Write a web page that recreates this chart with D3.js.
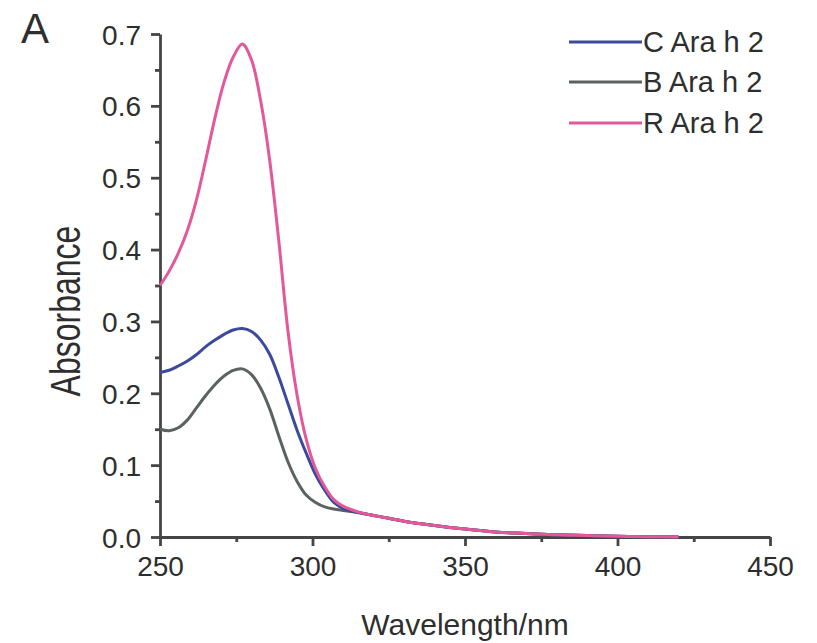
<!DOCTYPE html>
<html><head><meta charset="utf-8">
<script src="https://cdn.jsdelivr.net/npm/d3@7"></script>
<style>body{margin:0;background:#fff}svg{display:block}text{font-family:"Liberation Sans",Arial,sans-serif;fill:#2e2e2e}</style>
</head><body><svg id="c" width="817" height="643"></svg>
<script>
const wavelengths = [250,253,256,259,262,265,268,271,274,277,280,283,286,289,292,295,298,301,304,307,310,315,320,325,330,340,350,360,370,380,390,400,410,420];
const seriesNames = ["C Ara h 2","B Ara h 2","R Ara h 2"];
const cValues = [0.229,0.232,0.238,0.245,0.254,0.265,0.274,0.282,0.288,0.290,0.286,0.274,0.254,0.222,0.185,0.148,0.116,0.087,0.065,0.048,0.040,0.034,0.030,0.026,0.022,0.016,0.011,0.007,0.005,0.003,0.002,0.001,0.0005,0];
const bValues = [0.150,0.148,0.152,0.163,0.180,0.197,0.212,0.224,0.232,0.234,0.226,0.207,0.178,0.140,0.104,0.077,0.058,0.048,0.042,0.039,0.037,0.034,0.030,0.026,0.022,0.016,0.011,0.007,0.005,0.003,0.002,0.001,0.0005,0];
const rValues = [0.350,0.370,0.395,0.427,0.470,0.525,0.583,0.633,0.668,0.686,0.664,0.607,0.523,0.410,0.285,0.196,0.135,0.095,0.070,0.052,0.043,0.035,0.030,0.026,0.022,0.016,0.011,0.007,0.005,0.003,0.002,0.001,0.0005,0];
const xTicks = [250,300,350,400,450];
const yTicks = [0.0,0.1,0.2,0.3,0.4,0.5,0.6,0.7];
const colors = ["#3b4a9c","#5a6262","#e4589a"];

const svg = d3.select("#c");
const x = d3.scaleLinear().domain([250,450]).range([160,770]);
const y = d3.scaleLinear().domain([0,0.7]).range([537,34]);
const axisColor = "#454545";

// minor ticks
const gx = svg.append("g").attr("transform","translate(0,537)");
gx.call(d3.axisBottom(x).tickValues(d3.range(275,450,50)).tickSize(5).tickFormat(""));
const gy = svg.append("g").attr("transform","translate(160,0)");
gy.call(d3.axisLeft(y).tickValues(d3.range(0.05,0.7,0.1)).tickSize(5).tickFormat(""));
[gx,gy].forEach(g=>{g.select(".domain").remove();g.selectAll("line").attr("stroke",axisColor).attr("stroke-width",2.8);});

const gx2 = svg.append("g").attr("transform","translate(0,537)")
  .call(d3.axisBottom(x).tickValues(xTicks).tickSize(9).tickSizeOuter(0).tickPadding(10).tickFormat(d3.format("d")));
const gy2 = svg.append("g").attr("transform","translate(160,0)")
  .call(d3.axisLeft(y).tickValues(yTicks).tickSize(9).tickSizeOuter(0).tickPadding(10).tickFormat(d3.format(".1f")));
[gx2,gy2].forEach(g=>{
  g.select(".domain").attr("stroke",axisColor).attr("stroke-width",2.8);
  g.selectAll("line").attr("stroke",axisColor).attr("stroke-width",2.8);
  g.selectAll("text").attr("font-family","Liberation Sans, Arial, sans-serif").attr("font-size",28).attr("fill","#2e2e2e");
});
gy2.selectAll("text").attr("dy","0.36em");

const line = d3.line().x((d,i)=>x(wavelengths[i])).y(d=>y(d)).curve(d3.curveCatmullRom.alpha(0.5));
const order = [1,0,2];
order.forEach(k=>{
  const vals = [cValues,bValues,rValues][k];
  svg.append("path").datum(vals).attr("d",line).attr("fill","none")
    .attr("stroke",colors[k]).attr("stroke-width",3).attr("stroke-linejoin","round");
});

// legend
const legY = [42,82,123];
seriesNames.forEach((n,i)=>{
  svg.append("line").attr("x1",569).attr("x2",642).attr("y1",legY[i]).attr("y2",legY[i])
    .attr("stroke",colors[i]).attr("stroke-width",3);
  svg.append("text").attr("x",643).attr("y",legY[i]+10).attr("font-size",29).text(n);
});

// titles
svg.append("text").attr("x",465).attr("y",635).attr("text-anchor","middle").attr("font-size",30).text("Wavelength/nm");
svg.append("text").attr("transform","translate(80,311) rotate(-90) scale(1,1.3)").attr("text-anchor","middle").attr("font-size",32).text("Absorbance");
svg.append("text").attr("x",21).attr("y",43).attr("font-size",42).attr("font-weight",300).text("A");
</script></body></html>
